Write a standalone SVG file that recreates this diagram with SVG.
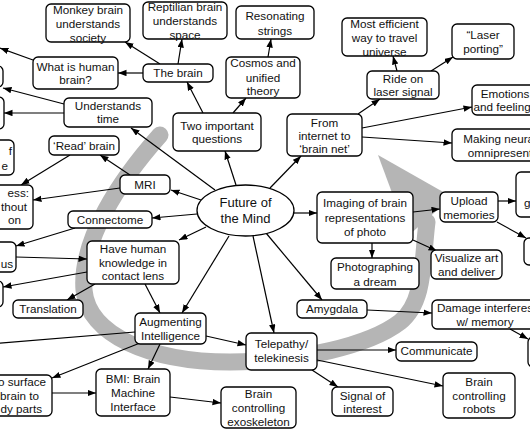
<svg xmlns="http://www.w3.org/2000/svg" width="530" height="442" viewBox="0 0 530 442">
<defs>
<marker id="ah" markerUnits="userSpaceOnUse" markerWidth="10" markerHeight="8" refX="8.5" refY="3.2" orient="auto">
<path d="M0,0 L8.5,3.2 L0,6.4 z" fill="#000"/>
</marker>
<style>
.n rect{fill:#fff;stroke:#000;stroke-width:1.3}
.n ellipse{fill:#fff;stroke:#000;stroke-width:1.3}
text{font-family:"Liberation Sans",Arial,sans-serif;font-size:11.7px;text-anchor:middle;fill:#111}
.e{text-anchor:end}
.s{text-anchor:start}
.big{font-size:13px}
.c line{stroke:#000;stroke-width:1.2;marker-end:url(#ah)}
.c line.nm{marker-end:none}
.band{fill:none;stroke:#b5b5b5;stroke-width:17;stroke-linecap:round}
</style>
</defs>
<rect width="530" height="442" fill="#fff"/>
<g id="grey-arrow">
<path class="band" d="M160,135 C120,180 80,240 84,290 C88,335 150,362 230,362 C300,362 370,345 400,322 C425,302 422,262 427,222"/>
<polygon points="378,155 452,197 408,236" fill="#b5b5b5"/>
</g>
<g class="c" id="connectors">
<line x1="236" y1="185" x2="225" y2="151"/>
<line x1="270" y1="188" x2="301" y2="156"/>
<line x1="215" y1="190" x2="131" y2="128"/>
<line x1="201" y1="200" x2="171" y2="190"/>
<line x1="197" y1="214" x2="152" y2="218"/>
<line x1="206" y1="227" x2="179" y2="240"/>
<line x1="229" y1="236" x2="182" y2="313"/>
<line x1="253" y1="236" x2="274" y2="333"/>
<line x1="266" y1="233" x2="322" y2="300"/>
<line x1="294" y1="213" x2="317" y2="213"/>
<line x1="160" y1="64" x2="125" y2="42"/>
<line x1="178" y1="64" x2="182" y2="39"/>
<line x1="143" y1="73" x2="118" y2="73"/>
<line x1="203" y1="113" x2="187" y2="82"/>
<line x1="233" y1="113" x2="246" y2="98"/>
<line x1="268" y1="57" x2="271" y2="39"/>
<line x1="33" y1="60" x2="0" y2="48"/>
<line x1="64" y1="104" x2="3" y2="88"/>
<line x1="64" y1="113" x2="4" y2="113"/>
<line x1="130" y1="175" x2="100" y2="155"/>
<line x1="120" y1="188" x2="33" y2="200"/>
<line x1="70" y1="155" x2="21" y2="185"/>
<line x1="75" y1="228" x2="16" y2="246"/>
<line x1="16" y1="257" x2="87" y2="259"/>
<line x1="87" y1="272" x2="3" y2="287"/>
<line x1="95" y1="284" x2="67" y2="300"/>
<line x1="145" y1="284" x2="160" y2="313"/>
<line class="nm" x1="135" y1="332" x2="-10" y2="344"/>
<line x1="140" y1="343" x2="52" y2="378"/>
<line x1="160" y1="344" x2="148" y2="369"/>
<line x1="206" y1="336" x2="246" y2="345"/>
<line x1="52" y1="393" x2="96" y2="393"/>
<line x1="170" y1="397" x2="221" y2="403"/>
<line x1="317" y1="350" x2="396" y2="350"/>
<line x1="317" y1="360" x2="443" y2="386"/>
<line x1="312" y1="370" x2="338" y2="387"/>
<line x1="367" y1="310" x2="432" y2="313"/>
<line x1="510" y1="329" x2="528" y2="339"/>
<line x1="372" y1="243" x2="372" y2="258"/>
<line x1="413" y1="240" x2="437" y2="251"/>
<line x1="413" y1="212" x2="440" y2="209"/>
<line x1="358" y1="114" x2="380" y2="99"/>
<line x1="362" y1="128" x2="472" y2="107"/>
<line x1="362" y1="137" x2="452" y2="143"/>
<line x1="397" y1="71" x2="393" y2="56"/>
<line x1="431" y1="71" x2="453" y2="57"/>
<line x1="498" y1="201" x2="516" y2="201"/>
<line x1="497" y1="222" x2="526" y2="238"/>
</g>
<g class="n" id="future"><ellipse cx="245.5" cy="210.5" rx="48.5" ry="25.5"/><text class="big" x="245.5" y="207">Future of</text><text class="big" x="245.5" y="223">the Mind</text></g>
<g class="n" id="monkey"><rect x="46" y="4" width="84" height="38" rx="5"/><text x="88" y="14">Monkey brain</text><text x="88" y="28">understands</text><text x="88" y="42">society</text></g>
<g class="n" id="reptilian"><rect x="143" y="2" width="84" height="37" rx="5"/><text x="185" y="11">Reptilian brain</text><text x="185" y="25">understands</text><text x="185" y="39">space</text></g>
<g class="n" id="resonating"><rect x="236" y="6" width="78" height="33" rx="5"/><text x="275" y="20">Resonating</text><text x="275" y="35">strings</text></g>
<g class="n" id="thebrain"><rect x="143" y="64" width="70" height="18" rx="5"/><text x="178" y="77">The brain</text></g>
<g class="n" id="whatis"><rect x="33" y="57" width="85" height="32" rx="5"/><text x="75.5" y="71">What is human</text><text x="75.5" y="84">brain?</text></g>
<g class="n" id="cosmos"><rect x="226" y="57" width="74" height="41" rx="5"/><text x="263" y="67">Cosmos and</text><text x="263" y="82">unified</text><text x="263" y="95">theory</text></g>
<g class="n" id="time"><rect x="64" y="98" width="88" height="29" rx="5"/><text x="108" y="110">Understands</text><text x="108" y="123">time</text></g>
<g class="n" id="two"><rect x="173" y="113" width="88" height="38" rx="5"/><text x="217" y="130">Two important</text><text x="217" y="143">questions</text></g>
<g class="n" id="internet"><rect x="287" y="114" width="75" height="42" rx="5"/><text x="324.5" y="127">From</text><text x="324.5" y="140">internet to</text><text x="324.5" y="153">‘brain net’</text></g>
<g class="n" id="efficient"><rect x="342" y="18" width="85" height="38" rx="5"/><text x="384.5" y="28">Most efficient</text><text x="384.5" y="42">way to travel</text><text x="384.5" y="56">universe</text></g>
<g class="n" id="laser"><rect x="452" y="24" width="62" height="35" rx="5"/><text x="483" y="39">“Laser</text><text x="483" y="53">porting”</text></g>
<g class="n" id="ride"><rect x="367" y="71" width="72" height="28" rx="5"/><text x="403" y="83">Ride on</text><text x="403" y="96">laser signal</text></g>
<g class="n" id="emotions"><rect x="472" y="85" width="80" height="30" rx="5"/><text x="505" y="98">Emotions</text><text x="505" y="111">and feelings</text></g>
<g class="n" id="neural"><rect x="452" y="129" width="100" height="32" rx="5"/><text x="500" y="143">Making neural</text><text x="500" y="157">omnipresent</text></g>
<g class="n" id="imaging"><rect x="317" y="192" width="96" height="51" rx="5"/><text x="365" y="207">Imaging of brain</text><text x="365" y="222">representations</text><text x="365" y="236">of photo</text></g>
<g class="n" id="dream"><rect x="331" y="258" width="88" height="31" rx="5"/><text x="375" y="271">Photographing</text><text x="375" y="286">a dream</text></g>
<g class="n" id="upload"><rect x="440" y="192" width="58" height="30" rx="5"/><text x="469" y="205">Upload</text><text x="469" y="219">memories</text></g>
<g class="n" id="visualize"><rect x="431" y="250" width="71" height="29" rx="5"/><text x="466.5" y="262">Visualize art</text><text x="466.5" y="276">and deliver</text></g>
<g class="n" id="right-g"><rect x="516" y="172" width="40" height="45" rx="5"/><text class="s" x="524" y="207">g</text></g>
<g class="n" id="right-low"><rect x="524" y="238" width="40" height="27" rx="5"/></g>
<g class="n" id="readbrain"><rect x="49" y="136" width="70" height="19" rx="5"/><text x="84" y="150">‘Read’ brain</text></g>
<g class="n" id="mri"><rect x="120" y="175" width="50" height="19" rx="5"/><text x="145" y="189">MRI</text></g>
<g class="n" id="connectome"><rect x="68" y="211" width="84" height="17" rx="5"/><text x="110" y="224">Connectome</text></g>
<g class="n" id="lens"><rect x="87" y="241" width="92" height="43" rx="5"/><text x="133" y="253">Have human</text><text x="133" y="267">knowledge in</text><text x="133" y="280">contact lens</text></g>
<g class="n" id="translation"><rect x="13" y="300" width="70" height="18" rx="5"/><text x="48" y="313">Translation</text></g>
<g class="n" id="augmenting"><rect x="135" y="313" width="71" height="31" rx="5"/><text x="170.5" y="326">Augmenting</text><text x="170.5" y="340">Intelligence</text></g>
<g class="n" id="bmi"><rect x="96" y="369" width="74" height="47" rx="5"/><text x="133" y="383">BMI: Brain</text><text x="133" y="397">Machine</text><text x="133" y="411">Interface</text></g>
<g class="n" id="exo"><rect x="221" y="387" width="75" height="41" rx="5"/><text x="258.5" y="398">Brain</text><text x="258.5" y="412">controlling</text><text x="258.5" y="426">exoskeleton</text></g>
<g class="n" id="telepathy"><rect x="246" y="333" width="71" height="37" rx="5"/><text x="281.5" y="348">Telepathy/</text><text x="281.5" y="362">telekinesis</text></g>
<g class="n" id="signal"><rect x="332" y="387" width="61" height="29" rx="5"/><text x="362.5" y="400">Signal of</text><text x="362.5" y="413">interest</text></g>
<g class="n" id="amygdala"><rect x="297" y="300" width="70" height="18" rx="5"/><text x="332" y="313">Amygdala</text></g>
<g class="n" id="damage"><rect x="432" y="300" width="106" height="29" rx="5"/><text x="485" y="312">Damage interferes</text><text x="485" y="326">w/ memory</text></g>
<g class="n" id="right-damage"><rect x="528" y="337" width="40" height="30" rx="5"/></g>
<g class="n" id="communicate"><rect x="396" y="342" width="81" height="19" rx="5"/><text x="436.5" y="355">Communicate</text></g>
<g class="n" id="robots"><rect x="443" y="373" width="72" height="45" rx="5"/><text x="479" y="386">Brain</text><text x="479" y="400">controlling</text><text x="479" y="413">robots</text></g>
<g class="n" id="surface"><rect x="-40" y="375" width="92" height="41" rx="5"/><text class="e" x="46" y="386">o surface</text><text class="e" x="39" y="400">brain to</text><text class="e" x="42" y="413">dy parts</text></g>
<g class="n" id="ess"><rect x="-50" y="185" width="83" height="44" rx="5"/><text class="e" x="29" y="197">ess:</text><text class="e" x="27" y="211">thout</text><text class="e" x="21" y="224">on</text></g>
<g class="n" id="left-fe"><rect x="-50" y="140" width="64" height="35" rx="5"/><text class="e" x="12" y="155">f</text><text class="e" x="8" y="170">e</text></g>
<g class="n" id="left-us"><rect x="-60" y="242" width="76" height="30" rx="5"/><text class="e" x="13" y="268">us</text></g>
<g class="n" id="left-a"><rect x="-70" y="66" width="73" height="21" rx="5"/></g>
<g class="n" id="left-b"><rect x="-70" y="97" width="74" height="32" rx="5"/></g>
<g class="n" id="left-c"><rect x="-70" y="281" width="73" height="26" rx="5"/></g>
</svg>
